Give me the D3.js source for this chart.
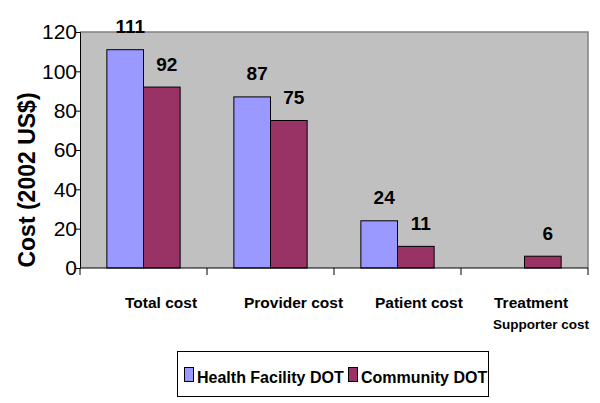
<!DOCTYPE html>
<html><head><meta charset="utf-8">
<script src="https://cdn.jsdelivr.net/npm/d3@7"></script>
<style>body{margin:0;background:#fff}svg{display:block}text{font-family:Arial,"Liberation Sans",sans-serif}</style>
</head><body>
<svg id="c" width="600" height="403"></svg>
<script>
const categories = ["Total cost", "Provider cost", "Patient cost", "Treatment"];
const subLabels = ["", "", "", "Supporter cost"];
const seriesNames = ["Health Facility DOT", "Community DOT"];
const healthFacility = [111, 87, 24, 0];
const community = [92, 75, 11, 6];
const yTicks = [0, 20, 40, 60, 80, 100, 120];
const colors = ["#9999ff", "#993366"];

const svg = d3.select("#c");
const L = 80, R = 588, T = 32, B = 268;
const x = d3.scaleBand().domain(categories).range([L, R]).paddingInner(0.423).paddingOuter(0.2115);
const x1 = d3.scaleBand().domain([0, 1]).range([0, x.bandwidth()]);
const y = d3.scaleLinear().domain([0, 120]).range([B, T]);

svg.append("rect").attr("x", L).attr("y", T).attr("width", R - L).attr("height", B - T)
  .attr("fill", "#c0c0c0");
svg.append("path").attr("d", `M${L},${T}H${R}V${B}`).attr("fill", "none").attr("stroke", "#808080").attr("stroke-width", 1.5);

const series = [healthFacility, community];
series.forEach((vals, s) => {
  svg.append("g").selectAll("rect").data(categories).join("rect")
    .attr("x", d => x(d) + x1(s))
    .attr("y", (d, i) => y(vals[i]))
    .attr("width", x1.bandwidth())
    .attr("height", (d, i) => B - y(vals[i]))
    .attr("fill", colors[s]).attr("stroke", "#000").attr("stroke-width", 1)
    .style("display", (d, i) => vals[i] > 0 ? null : "none");
  svg.append("g").selectAll("text").data(categories).join("text")
    .attr("x", d => x(d) + x1(s) + x1.bandwidth() / 2 + 5)
    .attr("y", (d, i) => y(vals[i]) - 16.5)
    .attr("text-anchor", "middle").attr("font-size", 19).attr("font-weight", "bold")
    .text((d, i) => vals[i] > 0 ? vals[i] : "");
});

// y axis
const ya = svg.append("g").attr("transform", `translate(${L},0)`)
  .call(d3.axisLeft(y).tickValues(yTicks).tickSize(4).tickPadding(-1));
ya.select(".domain").attr("stroke", "#000");
ya.selectAll("text").attr("font-size", 21).attr("fill", "#000").attr("font-family", "Arial, 'Liberation Sans', sans-serif");

// x axis with ticks at category boundaries
const step = x.step();
const bounds = d3.range(categories.length + 1).map(i => L + i * step);
svg.append("line").attr("x1", L).attr("x2", R).attr("y1", B).attr("y2", B).attr("stroke", "#000");
svg.append("g").selectAll("line").data(bounds).join("line")
  .attr("x1", d => d).attr("x2", d => d).attr("y1", B).attr("y2", B + 7).attr("stroke", "#000");

const labelOffsets = [45, 37, 41, 33];
svg.append("g").selectAll("text").data(categories).join("text")
  .attr("x", (d, i) => bounds[i] + labelOffsets[i])
  .attr("y", 308).attr("font-size", 15.5).attr("font-weight", "bold").text(d => d);
svg.append("g").selectAll("text").data(subLabels).join("text")
  .attr("x", (d, i) => bounds[i] + labelOffsets[i] - 1)
  .attr("y", 329).attr("font-size", 13.5).attr("font-weight", "bold").text(d => d);

// y title
svg.append("text").attr("transform", "translate(35,180) rotate(-90)")
  .attr("text-anchor", "middle").attr("font-size", 23).attr("font-weight", "bold").text("Cost (2002 US$)");

// legend
const lg = svg.append("g");
lg.append("rect").attr("x", 177.5).attr("y", 351.5).attr("width", 311).attr("height", 45)
  .attr("fill", "#fff").attr("stroke", "#000").attr("stroke-width", 1);
const legX = [184, 348];
seriesNames.forEach((n, i) => {
  lg.append("rect").attr("x", legX[i] + 0.5).attr("y", 367.5).attr("width", 9).attr("height", 14)
    .attr("fill", colors[i]).attr("stroke", "#000");
  lg.append("text").attr("x", legX[i] + 13).attr("y", 377).attr("dy", "0.35em").attr("font-size", 16)
    .attr("font-weight", "bold").text(n);
});
</script>
</body></html>
